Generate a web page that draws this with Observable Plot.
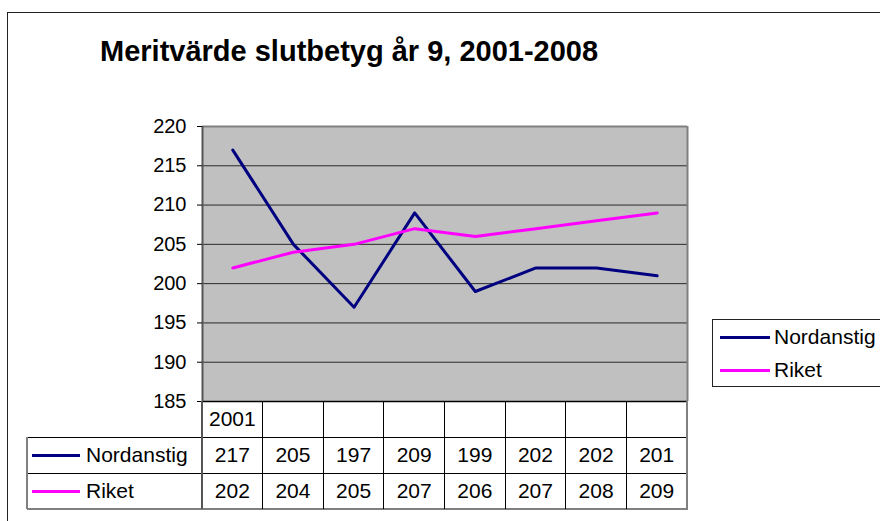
<!DOCTYPE html>
<html>
<head>
<meta charset="utf-8">
<script src="https://cdn.jsdelivr.net/npm/d3@7"></script>
<script src="https://cdn.jsdelivr.net/npm/@observablehq/plot@0.6"></script>
<style>
  html, body { margin: 0; padding: 0; background: #fff; }
  #wrap { position: relative; width: 880px; height: 521px; overflow: hidden; font-family: Arial, "Liberation Sans", sans-serif; color: #000; }
  #wrap > svg { position: absolute; left: 0; top: 0; }
  .abs { position: absolute; }
  .cell { position: absolute; display: flex; align-items: center; justify-content: center; font-size: 21px; white-space: nowrap; }
  .lab { position: absolute; display: flex; align-items: center; font-size: 21px; white-space: nowrap; }
</style>
</head>
<body>
<div id="wrap"></div>
<script>
// ---- data ----
const years = [2001, 2002, 2003, 2004, 2005, 2006, 2007, 2008];
const headerLabels = ["2001", "", "", "", "", "", "", ""];
const seriesNames = ["Nordanstig", "Riket"];
const nordanstig = [217, 205, 197, 209, 199, 202, 202, 201];
const riket = [202, 204, 205, 207, 206, 207, 208, 209];
const seriesColors = ["#000080", "#FF00FF"];
const yTicks = [185, 190, 195, 200, 205, 210, 215, 220];
const titleText = "Meritvärde slutbetyg år 9, 2001-2008";

const seriesValues = [nordanstig, riket];
const data = seriesNames.flatMap((name, s) =>
  years.map((yr, i) => ({series: name, year: yr, pos: i + 0.5, value: seriesValues[s][i]})));

const wrap = document.getElementById("wrap");

// outer chart-area border
const outer = document.createElement("div");
outer.className = "abs";
Object.assign(outer.style, {left: "7px", top: "12px", width: "1000px", height: "1000px", border: "1px solid #222"});
wrap.appendChild(outer);

const plot = Plot.plot({
  width: 880, height: 521,
  marginLeft: 202, marginRight: 193, marginTop: 126, marginBottom: 120,
  style: {background: "transparent", fontFamily: "Arial, 'Liberation Sans', sans-serif", fontSize: "20px", color: "#000", overflow: "visible"},
  x: {domain: [0, years.length], axis: null},
  y: {domain: [185, 220], axis: null, label: null},
  color: {domain: seriesNames, range: seriesColors},
  marks: [
    Plot.frame({fill: "#c0c0c0", stroke: "none"}),
    Plot.ruleY(yTicks.slice(1, -1), {stroke: "#2a2a2a", strokeWidth: 1}),
    Plot.ruleY([220], {stroke: "#808080", strokeWidth: 2}),
    Plot.ruleX([years.length], {stroke: "#808080", strokeWidth: 2}),
    Plot.ruleY([185], {stroke: "#000", strokeWidth: 1.5}),
    Plot.ruleX([0], {stroke: "#555", strokeWidth: 2}),
    Plot.axisY(yTicks, {tickSize: 5, tickPadding: 11, stroke: "#000", fill: "#000", fontSize: 20, label: null}),
    Plot.line(data, {x: "pos", y: "value", z: "series", stroke: "series", strokeWidth: 3})
  ]
});
wrap.appendChild(plot);

// title
const title = document.createElement("div");
title.className = "abs";
Object.assign(title.style, {left: "100px", top: "37px", fontSize: "29px", fontWeight: "bold", lineHeight: "29px", whiteSpace: "nowrap"});
title.textContent = titleText;
wrap.appendChild(title);

// ---- data table under the plot, aligned with the x scale ----
const xs = plot.scale("x"), ys = plot.scale("y");
const X = v => xs.apply(v);
const tableTop = ys.apply(185);
const rowH = 36;
const tableLeft = 27;
const right = X(years.length);
const bottom = tableTop + 3 * rowH;

function hline(x1, x2, y, color, w) {
  const d = document.createElement("div"); d.className = "abs";
  Object.assign(d.style, {left: x1 + "px", top: (y - w / 2) + "px", width: (x2 - x1) + "px", height: w + "px", background: color});
  wrap.appendChild(d);
}
function vline(x, y1, y2, color, w) {
  const d = document.createElement("div"); d.className = "abs";
  Object.assign(d.style, {left: (x - w / 2) + "px", top: y1 + "px", width: w + "px", height: (y2 - y1) + "px", background: color});
  wrap.appendChild(d);
}
function cell(x1, x2, y1, y2, text) {
  const d = document.createElement("div"); d.className = "cell";
  Object.assign(d.style, {left: x1 + "px", top: y1 + "px", width: (x2 - x1) + "px", height: (y2 - y1) + "px"});
  d.textContent = text;
  wrap.appendChild(d);
}

// header row
years.forEach((yr, i) => cell(X(i), X(i + 1), tableTop, tableTop + rowH, headerLabels[i]));
// series rows
seriesNames.forEach((name, s) => {
  const y1 = tableTop + (s + 1) * rowH, y2 = y1 + rowH;
  seriesValues[s].forEach((v, i) => cell(X(i), X(i + 1), y1, y2, String(v)));
  const key = document.createElement("div"); key.className = "abs";
  Object.assign(key.style, {left: (tableLeft + 5) + "px", top: ((y1 + y2) / 2 - 1.5) + "px", width: "48px", height: "3px", background: seriesColors[s]});
  wrap.appendChild(key);
  const lab = document.createElement("div"); lab.className = "lab";
  Object.assign(lab.style, {left: (tableLeft + 59) + "px", top: y1 + "px", height: rowH + "px"});
  lab.textContent = name;
  wrap.appendChild(lab);
});
// table lines
hline(tableLeft, right, tableTop + rowH, "#000", 1);
hline(tableLeft, right, tableTop + 2 * rowH, "#000", 1);
hline(tableLeft, right + 1, bottom, "#808080", 2);
vline(tableLeft, tableTop + rowH, bottom, "#808080", 2);
vline(X(0), tableTop, bottom, "#555", 2);
for (let i = 1; i < years.length; i++) vline(X(i), tableTop, bottom, "#000", 1);
vline(right, tableTop, bottom, "#808080", 2);

// ---- legend ----
const legend = document.createElement("div"); legend.className = "abs";
Object.assign(legend.style, {left: "712px", top: "319px", width: "200px", height: "66px", border: "1px solid #222", background: "#fff"});
wrap.appendChild(legend);
seriesNames.forEach((name, s) => {
  const cy = 17 + s * 33;
  const k = document.createElement("div"); k.className = "abs";
  Object.assign(k.style, {left: "7px", top: (cy - 1.5) + "px", width: "50px", height: "3px", background: seriesColors[s]});
  legend.appendChild(k);
  const t = document.createElement("div"); t.className = "lab";
  Object.assign(t.style, {left: "61px", top: (cy - 14) + "px", height: "28px"});
  t.textContent = name;
  legend.appendChild(t);
});
</script>
</body>
</html>
